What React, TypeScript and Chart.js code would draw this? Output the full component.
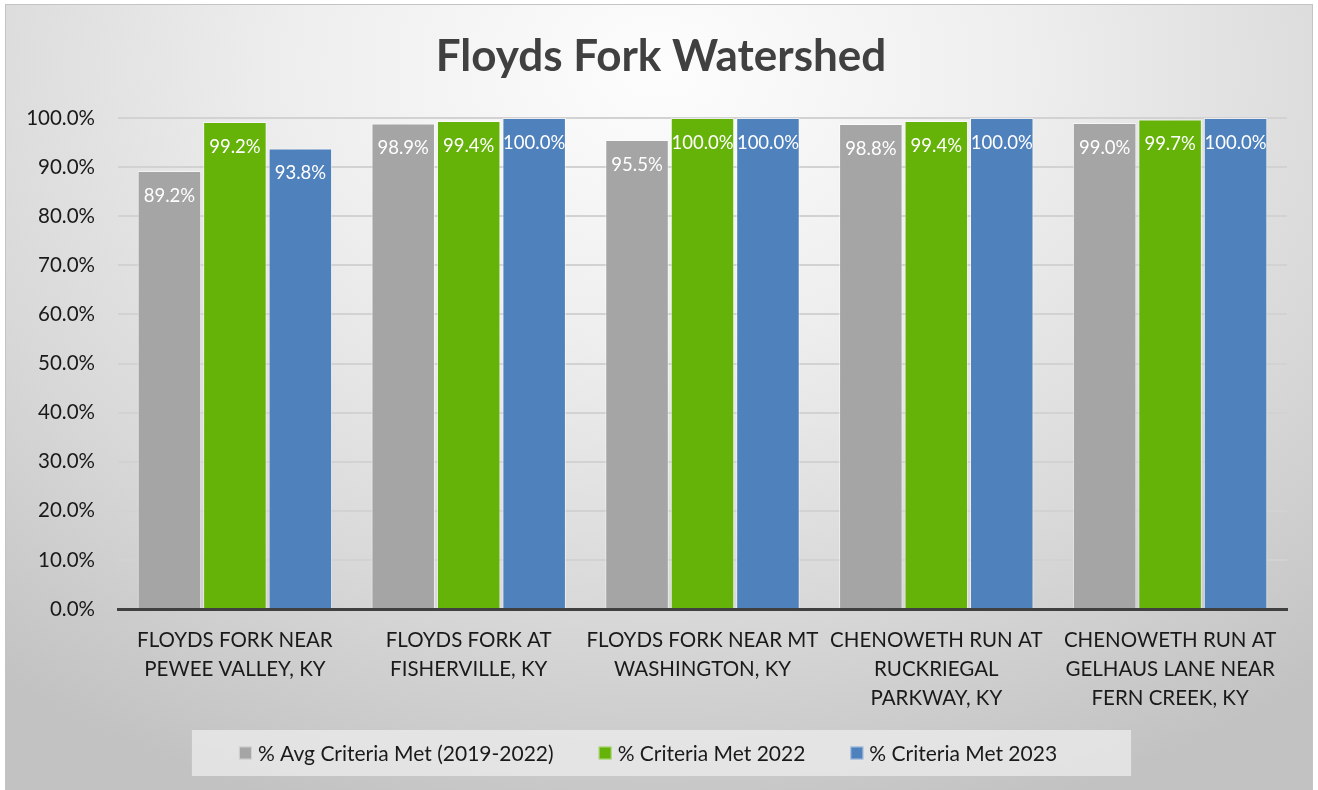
import React, { useEffect, useRef } from "react";
import { Chart, registerables } from "chart.js";

Chart.register(...registerables);

const TITLE = "Floyds Fork Watershed";
const categories: string[][] = [
  ["FLOYDS FORK NEAR", "PEWEE VALLEY, KY"],
  ["FLOYDS FORK AT", "FISHERVILLE, KY"],
  ["FLOYDS FORK NEAR MT", "WASHINGTON, KY"],
  ["CHENOWETH RUN AT", "RUCKRIEGAL", "PARKWAY, KY"],
  ["CHENOWETH RUN AT", "GELHAUS LANE NEAR", "FERN CREEK, KY"],
];
const seriesNames = [
  "% Avg Criteria Met (2019-2022)",
  "% Criteria Met 2022",
  "% Criteria Met 2023",
];
const avgValues = [89.2, 98.9, 95.5, 98.8, 99.0];
const values2022 = [99.2, 99.4, 100.0, 99.4, 99.7];
const values2023 = [93.8, 100.0, 100.0, 100.0, 100.0];
const seriesColors = ["#a5a5a5", "#65b308", "#4f81bd"];

const FONT = "Lato, 'Open Sans', sans-serif";

const dataLabelPlugin = {
  id: "dataLabels",
  afterDatasetsDraw(chart: any) {
    const ctx = chart.ctx;
    ctx.save();
    ctx.font = `18.5px ${FONT}`;
    ctx.fillStyle = "#ffffff";
    ctx.textAlign = "center";
    ctx.textBaseline = "middle";
    chart.data.datasets.forEach((ds: any, di: number) => {
      const meta = chart.getDatasetMeta(di);
      meta.data.forEach((bar: any, i: number) => {
        const v = ds.data[i] as number;
        ctx.fillText(v.toFixed(1) + "%", bar.x, bar.y + 25);
      });
    });
    ctx.restore();
  },
};

// Title centred on the whole chart box
const titlePlugin = {
  id: "centredTitle",
  afterDraw(chart: any) {
    const ctx = chart.ctx;
    ctx.save();
    ctx.font = `bold 44px ${FONT}`;
    ctx.fillStyle = "#404040";
    ctx.textAlign = "center";
    ctx.textBaseline = "middle";
    ctx.fillText(TITLE, chart.width / 2 + 2, 52);
    ctx.restore();
  },
};

// Legend drawn from the chart's own datasets (labels + colours)
const legendPlugin = {
  id: "customLegend",
  afterDraw(chart: any) {
    const ctx = chart.ctx;
    const box = 13;
    const gapText = 6;
    const gapItem = 45;
    ctx.save();
    ctx.font = `21px ${FONT}`;
    const items = chart.data.datasets.map((ds: any) => ({
      label: ds.label as string,
      color: ds.backgroundColor as string,
      w: ctx.measureText(ds.label).width,
    }));
    const total =
      items.reduce((s: number, it: any) => s + box + gapText + it.w, 0) +
      gapItem * (items.length - 1);
    const cy = chart.chartArea.bottom + 144;
    const cx = chart.width / 2 - 11;
    let x = cx - total / 2;
    const start = x;
    ctx.fillStyle = "rgba(236,236,236,0.75)";
    ctx.fillRect(start - 47, cy - 23, total + 47 + 74, 46);
    ctx.textAlign = "left";
    ctx.textBaseline = "middle";
    items.forEach((it: any) => {
      ctx.fillStyle = it.color;
      ctx.fillRect(x, cy - box / 2, box, box);
      ctx.strokeStyle = "rgba(255,255,255,0.5)";
      ctx.lineWidth = 1;
      ctx.strokeRect(x + 0.5, cy - box / 2 + 0.5, box - 1, box - 1);
      ctx.fillStyle = "#1a1a1a";
      ctx.fillText(it.label, x + box + gapText, cy + 1);
      x += box + gapText + it.w + gapItem;
    });
    ctx.restore();
  },
};

export default function App() {
  const ref = useRef<HTMLCanvasElement>(null);
  useEffect(() => {
    if (!ref.current) return;
    const chart = new Chart(ref.current, {
      type: "bar",
      data: {
        labels: categories,
        datasets: [avgValues, values2022, values2023].map((d, i) => ({
          label: seriesNames[i],
          data: d,
          backgroundColor: seriesColors[i],
          borderColor: "rgba(255,255,255,0.55)",
          borderWidth: 1,
          barPercentage: 0.97,
          categoryPercentage: 0.84,
        })),
      },
      options: {
        responsive: false,
        animation: false,
        devicePixelRatio: 1,
        layout: { padding: { top: 113, left: 0, right: 25, bottom: 60 } },
        plugins: {
          title: { display: false },
          legend: { display: false },
          tooltip: { enabled: false },
        },
        scales: {
          x: {
            grid: { display: false, drawTicks: false },
            border: { display: true, color: "#404040", width: 3 },
            ticks: {
              color: "#1a1a1a",
              font: { family: FONT, size: 20.5, lineHeight: 29 / 20.5 },
              padding: 17,
              maxRotation: 0,
              autoSkip: false,
            },
            afterFit(scale: any) {
              scale.height = 121;
            },
          },
          y: {
            min: 0,
            max: 100,
            grid: { color: "#d2d2d2", lineWidth: 2, drawTicks: false },
            border: { display: false },
            ticks: {
              stepSize: 10,
              color: "#1a1a1a",
              font: { family: FONT, size: 20.5 },
              padding: 23,
              callback: (v: any) => Number(v).toFixed(1) + "%",
            },
            afterFit(scale: any) {
              scale.width = 112;
            },
          },
        },
      },
      plugins: [titlePlugin, legendPlugin, dataLabelPlugin],
    } as any);
    return () => chart.destroy();
  }, []);

  return (
    <div style={{ position: "fixed", inset: 0, background: "#ffffff" }}>
      <div
        style={{
          position: "absolute",
          left: 5,
          top: 4,
          width: 1308,
          height: 787,
          boxSizing: "border-box",
          border: "1px solid #c4c4c4",
          background:
            "radial-gradient(ellipse 80% 100% at 50% 8%, #fdfdfd 0%, #eeeeee 35%, #d8d8d8 70%, #c2c2c2 100%)",
        }}
      >
        <canvas ref={ref} width={1306} height={785} style={{ display: "block" }} />
      </div>
    </div>
  );
}
